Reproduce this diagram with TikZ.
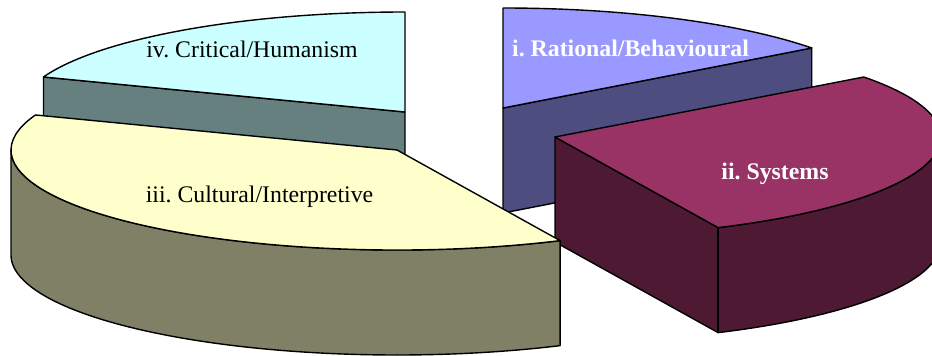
\documentclass[tikz,border=0pt]{standalone}
\usepackage{fontspec}
\setmainfont{Liberation Serif}
\usetikzlibrary{calc}
\definecolor{topI}{HTML}{9999FF}
\definecolor{sideI}{HTML}{4D4D80}
\definecolor{topII}{HTML}{993366}
\definecolor{sideII}{HTML}{4D1933}
\definecolor{topIII}{HTML}{FFFFCC}
\definecolor{sideIII}{HTML}{808066}
\definecolor{topIV}{HTML}{CCFFFF}
\definecolor{sideIV}{HTML}{668080}
\begin{document}
\frenchspacing
\begin{tikzpicture}[x=1pt,y=-1pt,line width=1.4pt,line join=round,
  face/.style={draw=black},
  rim/.style={x radius=386,y radius=100},
  lbl/.style={anchor=base,inner sep=0pt,font=\fontsize{23.8}{28}\selectfont}]
\useasboundingbox (0,0) rectangle (932,356);
\clip (0,0) rectangle (932,356);
% apexes of the exploded slices
\coordinate (A1) at (503,108);
\coordinate (A2) at (555,137);
\coordinate (A3) at (397,150);
\coordinate (A4) at (405,112);
% rim points of the slice edges
\path (A1) ++(-36.87:386 and 100) coordinate (E1);
\path (A2) ++(-36.87:386 and 100) coordinate (E2);
\path (A2) ++(65:386 and 100) coordinate (F2);
\path (A3) ++(65:386 and 100) coordinate (F3);
\path (A4) ++(200.5:386 and 100) coordinate (G4);

% iv. Critical/Humanism
\draw[face,fill=sideIV] (A4) -- (G4) -- ++(0,105) -- ($(A4)+(0,105)$) -- cycle;
\draw[face,fill=topIV] (A4) -- (G4) arc[rim,start angle=200.5,end angle=270] -- cycle;

% i. Rational/Behavioural
\draw[face,fill=sideI] (A1) -- (E1) -- ++(0,105) -- ($(A1)+(0,105)$) -- cycle;
\draw[face,fill=topI] (A1) -- ++(-90:386 and 100) arc[rim,start angle=-90,end angle=-36.87] -- cycle;

% ii. Systems
\draw[face,fill=sideII] (A2) -- (F2) -- ++(0,105) -- ($(A2)+(0,105)$) -- cycle;
\draw[face,fill=sideII] (F2) arc[rim,start angle=65,end angle=-5] -- ++(0,105) arc[rim,start angle=-5,end angle=65] -- cycle;
\draw[face,fill=topII] (A2) -- (E2) arc[rim,start angle=-36.87,end angle=65] -- cycle;

% iii. Cultural/Interpretive
\draw[face,fill=sideIII] (F3) arc[rim,start angle=65,end angle=180] -- ++(0,105) arc[rim,start angle=180,end angle=65] -- cycle;
\draw[face,fill=topIII] (A3) -- (F3) arc[rim,start angle=65,end angle=200.5] -- cycle;

% labels
\node[lbl] (labIV) at (252,57) {iv. Critical/Humanism};
\node[lbl,text=white] (labI) at (630.5,56.7) {\bfseries i. Rational/Behavioural};
\node[lbl,text=white] (labII) at (775,179) {\bfseries ii. Systems};
\node[lbl] (labIII) at (259.5,202) {iii. Cultural/Interpretive};
\end{tikzpicture}
\end{document}
